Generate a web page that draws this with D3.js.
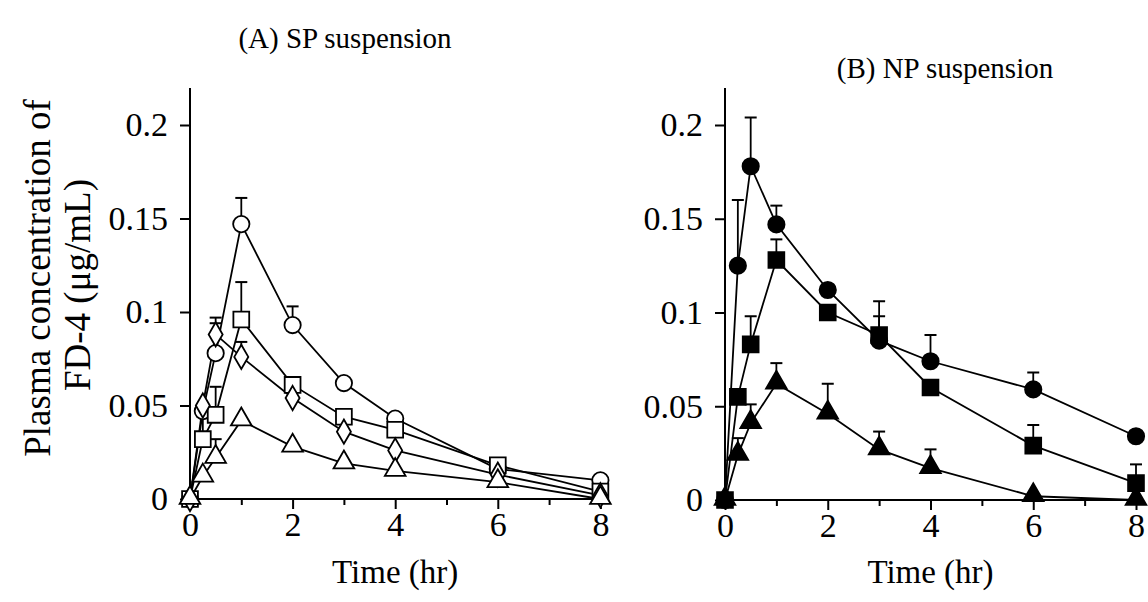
<!DOCTYPE html>
<html><head><meta charset="utf-8">
<script src="https://cdn.jsdelivr.net/npm/d3@7/dist/d3.min.js"></script>
<style>body{margin:0;background:#fff}svg{display:block}text{font-family:"Liberation Serif","Times New Roman",serif;fill:#000}</style>
</head><body><svg id="c" width="1148" height="602"></svg>
<script>
const time = [0, 0.25, 0.5, 1, 2, 3, 4, 6, 8];
const xTicks = [0, 2, 4, 6, 8];
const xMinor = [1, 3, 5, 7];
const yTicks = [0, 0.05, 0.1, 0.15, 0.2];
const yTickLabels = ["0", "0.05", "0.1", "0.15", "0.2"];
const titles = ["(A) SP suspension", "(B) NP suspension"];
const xLabel = "Time (hr)";
const yLabel = ["Plasma concentration of", "FD-4 (\u03bcg/mL)"];

// Panel A (open symbols)
const aCircle   = [0, 0.047, 0.078, 0.147, 0.093, 0.062, 0.043, 0.016, 0.010];
const aCircleSd = [0, 0, 0.016, 0.014, 0.010, 0, 0, 0, 0];
const aSquare   = [0, 0.032, 0.045, 0.096, 0.061, 0.044, 0.037, 0.018, 0.004];
const aSquareSd = [0, 0.012, 0.015, 0.020, 0, 0, 0, 0, 0];
const aDiamond  = [0, 0.050, 0.088, 0.076, 0.054, 0.036, 0.026, 0.013, 0.002];
const aDiamondSd= [0, 0, 0.009, 0.008, 0, 0, 0, 0, 0];
const aTriangle = [0, 0.012, 0.022, 0.042, 0.028, 0.019, 0.015, 0.009, 0];
const aTriangleSd=[0, 0, 0.010, 0, 0, 0, 0, 0, 0];

// Panel B (filled symbols)
const bCircle   = [0, 0.125, 0.178, 0.147, 0.112, 0.085, 0.074, 0.059, 0.034];
const bCircleSd = [0, 0.035, 0.026, 0.010, 0, 0.021, 0.014, 0.009, 0];
const bSquare   = [0, 0.055, 0.083, 0.128, 0.100, 0.088, 0.060, 0.029, 0.009];
const bSquareSd = [0, 0, 0.015, 0.011, 0, 0.010, 0, 0.011, 0.010];
const bTriangle = [0, 0.024, 0.041, 0.062, 0.046, 0.027, 0.017, 0.002, 0];
const bTriangleSd=[0, 0.009, 0.010, 0.011, 0.016, 0.0095, 0.010, 0, 0];

const panels = [
  {x0:190, x1:600.4, y0:499, y1:88, title:titles[0], tx:345, ty:48, fill:"#fff",
   series:[
     {v:aCircle, sd:aCircleSd, sym:"circle"},
     {v:aSquare, sd:aSquareSd, sym:"square"},
     {v:aDiamond, sd:aDiamondSd, sym:"diamond"},
     {v:aTriangle, sd:aTriangleSd, sym:"triangle"}]},
  {x0:725, x1:1136, y0:500, y1:88, title:titles[1], tx:945, ty:78, fill:"#000",
   series:[
     {v:bCircle, sd:bCircleSd, sym:"circle"},
     {v:bSquare, sd:bSquareSd, sym:"square"},
     {v:bTriangle, sd:bTriangleSd, sym:"triangle"}]}
];

const svg = d3.select("#c");
const symMap = {circle:d3.symbolCircle, square:d3.symbolSquare, diamond:d3.symbolDiamond, triangle:d3.symbolTriangle};
const symSize = {circle:210, square:250, diamond:170, triangle:185};

panels.forEach(p => {
  const x = d3.scaleLinear().domain([0, 8]).range([p.x0, p.x1]);
  const y = d3.scaleLinear().domain([0, 0.2]).range([p.y0, 125]);
  const g = svg.append("g");

  const xa = d3.axisBottom(x).tickValues(xTicks).tickSize(10).tickFormat(d3.format("d"));
  const gx = g.append("g").attr("transform", `translate(0,${p.y0})`).call(xa);
  gx.select(".domain").attr("d", `M${p.x0},0H${p.x1 + 4}`);
  const xm = d3.axisBottom(x).tickValues(xMinor).tickSize(6).tickFormat("");
  const gxm = g.append("g").attr("transform", `translate(0,${p.y0})`).call(xm);
  gxm.select(".domain").remove();
  const ya = d3.axisLeft(y).tickValues(yTicks).tickSize(10).tickFormat((d,i) => yTickLabels[i]);
  const gy = g.append("g").attr("transform", `translate(${p.x0},0)`).call(ya);
  gy.select(".domain").attr("d", `M0,${p.y0}V${p.y1}`);
  [gx, gxm, gy].forEach(a => {
    a.selectAll("path,line").attr("stroke", "#000").attr("stroke-width", 2);
    a.selectAll("text").style("font-size", "34px").style("font-family", '"Liberation Serif",serif');
  });
  gx.selectAll("text").attr("y", 13);
  gy.selectAll("text").attr("x", -22);

  g.append("text").attr("x", p.tx).attr("y", p.ty).attr("text-anchor", "middle")
    .style("font-size", "29px").text(p.title);
  g.append("text").attr("x", (p.x0 + p.x1) / 2).attr("y", 583).attr("text-anchor", "middle")
    .style("font-size", "33px").text(xLabel);

  const line = d3.line().x((d, i) => x(time[i])).y(d => y(d));
  p.series.forEach(s => {
    g.append("path").attr("d", line(s.v)).attr("fill", "none").attr("stroke", "#000").attr("stroke-width", 1.8);
  });
  p.series.forEach(s => {
    s.v.forEach((v, i) => {
      if (!s.sd[i]) return;
      const cx = x(time[i]), top = y(v + s.sd[i]);
      g.append("line").attr("x1", cx).attr("x2", cx).attr("y1", y(v)).attr("y2", top).attr("stroke", "#000").attr("stroke-width", 1.8);
      g.append("line").attr("x1", cx - 6).attr("x2", cx + 6).attr("y1", top).attr("y2", top).attr("stroke", "#000").attr("stroke-width", 2);
    });
  });
  p.series.forEach(s => {
    const sym = d3.symbol().type(symMap[s.sym]).size(symSize[s.sym]);
    s.v.forEach((v, i) => {
      g.append("path").attr("d", sym())
        .attr("transform", `translate(${x(time[i])},${y(v) + (s.sym === "triangle" ? -1 : 0)})`)
        .attr("fill", p.fill).attr("stroke", "#000").attr("stroke-width", 1.8);
    });
  });
});

const yl = svg.append("g");
yl.append("text").attr("transform", "translate(50,278) rotate(-90)").attr("text-anchor", "middle")
  .style("font-size", "37px").text(yLabel[0]);
yl.append("text").attr("transform", "translate(90,285) rotate(-90)").attr("text-anchor", "middle")
  .style("font-size", "37px").text(yLabel[1]);
</script></body></html>
